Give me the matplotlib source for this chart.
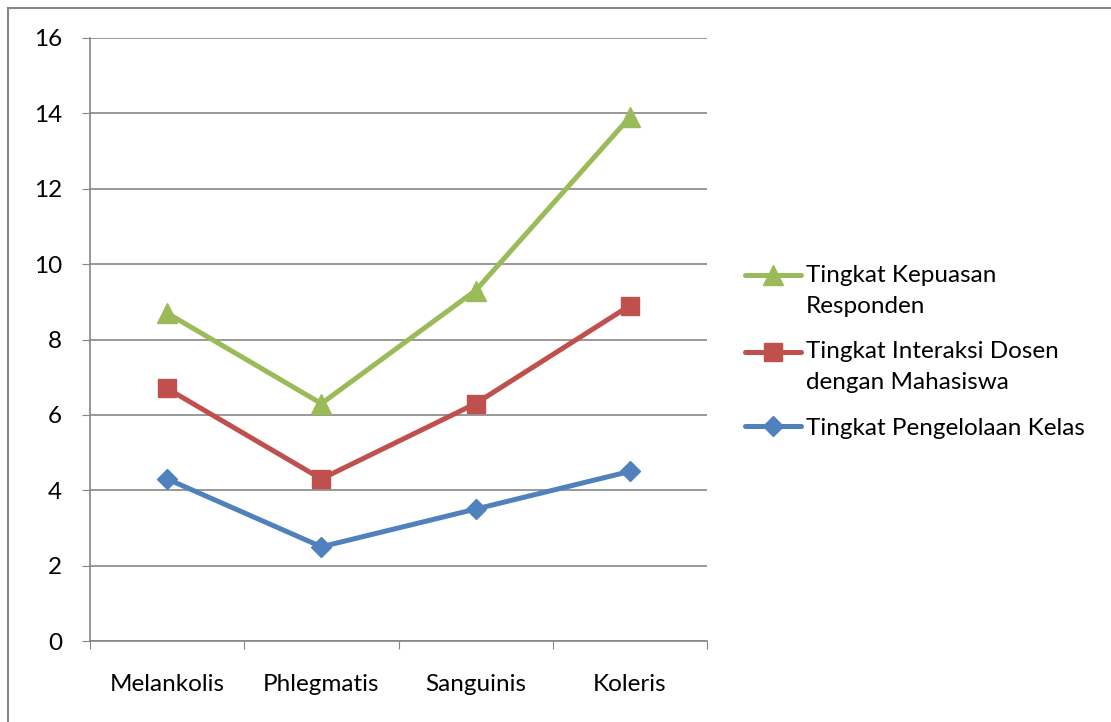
import matplotlib.pyplot as plt
import matplotlib
from matplotlib.patches import Rectangle
from matplotlib.legend_handler import HandlerLine2D
import numpy as np

matplotlib.rcParams['font.family'] = ['Lato', 'DejaVu Sans']

categories = ['Melankolis', 'Phlegmatis', 'Sanguinis', 'Koleris']
kepuasan = [8.7, 6.3, 9.3, 13.9]
interaksi = [6.7, 4.3, 6.3, 8.9]
pengelolaan = [4.3, 2.5, 3.5, 4.5]

series = [
    ('Tingkat Kepuasan\nResponden', kepuasan, '#9BBB59', '^', 14),
    ('Tingkat Interaksi Dosen\ndengan Mahasiswa', interaksi, '#C0504D', 's', 13),
    ('Tingkat Pengelolaan Kelas', pengelolaan, '#4F81BD', 'D', 10),
]

FS = 17.5


class FirstLineHandler(HandlerLine2D):
    """Legend handle aligned with the first line of a wrapped label."""
    def __init__(self, dy, **kw):
        super().__init__(**kw)
        self.dy = dy

    def create_artists(self, legend, orig_handle, xdescent, ydescent,
                       width, height, fontsize, trans):
        return super().create_artists(legend, orig_handle, xdescent,
                                      ydescent - 2 * self.dy, width, height,
                                      fontsize, trans)


fig = plt.figure(figsize=(11.11, 7.22), dpi=100)
# outer chart border
fig.patches.append(Rectangle((8 / 1111, -0.1), 1.2, (722 - 8) / 722 + 0.1,
                             transform=fig.transFigure, fill=False,
                             edgecolor='#868686', linewidth=1.5))

ax = fig.add_axes([90 / 1111, 81 / 722, 617 / 1111, 603 / 722])
x = np.arange(len(categories))

handler_map = {}
for label, vals, color, marker, ms in series:
    line, = ax.plot(x, vals, color=color, linewidth=3.6, marker=marker,
                    markersize=ms, label=label, solid_capstyle='round')
    if '\n' in label:
        handler_map[line] = FirstLineHandler(11.0)

ax.set_xlim(-0.5, len(categories) - 0.5)
ax.set_ylim(0, 16)
ax.set_yticks(range(0, 17, 2))
ax.set_xticks(np.arange(-0.5, len(categories), 1.0))
ax.set_xticklabels([])
ax.set_xticks(x, minor=True)
ax.set_xticklabels(categories, minor=True)
ax.tick_params(axis='x', which='minor', length=0, pad=24, labelsize=FS)
ax.tick_params(axis='x', which='major', length=6, color='#868686', direction='out')
ax.tick_params(axis='y', length=6, color='#868686', direction='out', labelsize=FS, pad=14)

ax.grid(axis='y', color='#868686', linewidth=1.2)
ax.set_axisbelow(True)
for s in ['top', 'right']:
    ax.spines[s].set_visible(False)
for s in ['left', 'bottom']:
    ax.spines[s].set_color('#868686')
    ax.spines[s].set_linewidth(1.2)

leg = ax.legend(loc='center left', bbox_to_anchor=(1.0616, 0.48), frameon=False,
                fontsize=FS, handlelength=2.3, handletextpad=0.2, labelspacing=1.0,
                borderpad=0, borderaxespad=0, handler_map=handler_map)
for t in leg.get_texts():
    t.set_linespacing(1.6)

plt.savefig('out.png', dpi=100)
plt.close()
